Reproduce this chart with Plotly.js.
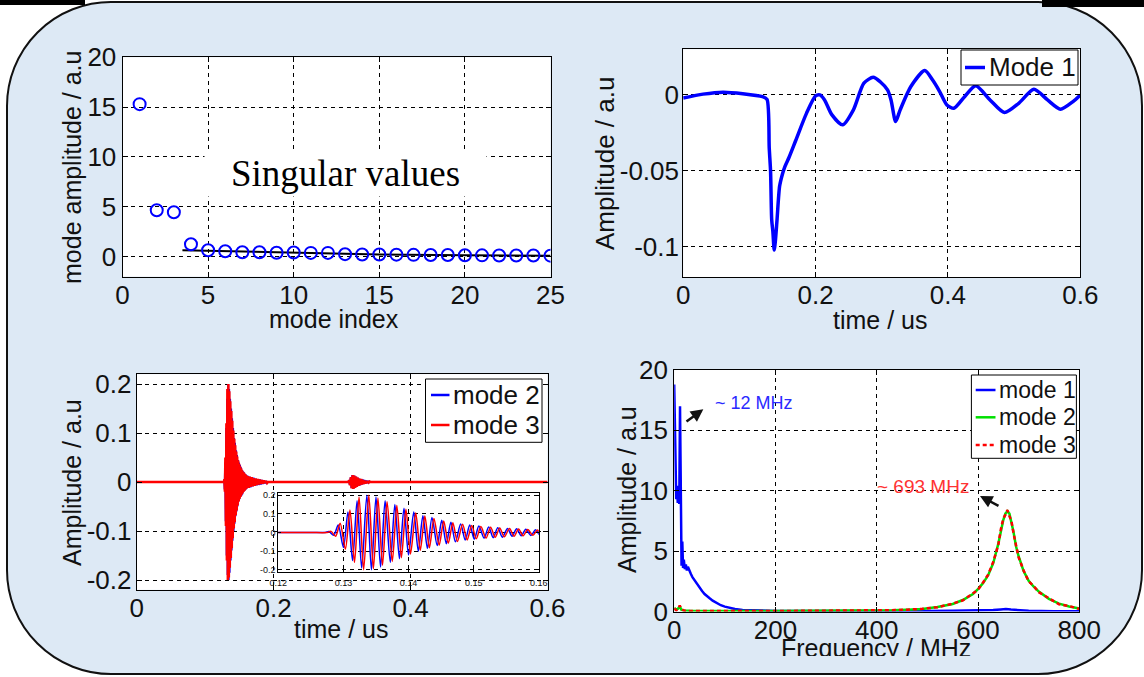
<!DOCTYPE html>
<html><head><meta charset="utf-8">
<script src="https://cdn.plot.ly/plotly-3.0.1.min.js"></script>
<style>
html,body{margin:0;padding:0;background:#fff;width:1144px;height:677px;overflow:hidden;}
#frame{position:absolute;left:6px;top:1px;width:1137px;height:674px;box-sizing:border-box;border:2px solid #111;border-radius:105px;background:#dde9f5;}
.bar{position:absolute;background:#000;}
#chart{position:absolute;left:0;top:0;width:1144px;height:677px;}
#clip{position:absolute;left:776px;top:656px;width:200px;height:14px;background:#dde9f5;}
</style></head><body>
<div id="frame"></div>
<div class="bar" style="left:0;top:0;width:85px;height:5px"></div>
<div class="bar" style="left:1042px;top:0;width:102px;height:7px"></div>
<div id="chart"></div>
<div id="clip"></div>
<script>
// ---------- Panel A: singular values ----------
const modeIndex = [1,2,3,4,5,6,7,8,9,10,11,12,13,14,15,16,17,18,19,20,21,22,23,24,25];
const singularValues = [15.3,4.65,4.45,1.25,0.65,0.55,0.45,0.45,0.4,0.42,0.38,0.38,0.25,0.22,0.22,0.2,0.18,0.16,0.16,0.14,0.13,0.12,0.12,0.11,0.1];
const floorIndex = [3.5,5,10,15,20,25];
const floorLevel = [0.65,0.6,0.4,0.22,0.14,0.1];

// ---------- Panel B: mode 1 in time ----------
const mode1Time = [0,0.03,0.06,0.09,0.12,0.1266,0.130,0.132,0.1337,0.1355,0.1375,0.1395,0.1418,0.1457,0.150,0.1538,0.160,0.170,0.1864,0.200,0.2065,0.2136,0.2245,0.241,0.257,0.273,0.287,0.298,0.3087,0.314,0.321,0.3277,0.344,0.365,0.3766,0.3875,0.3984,0.409,0.4255,0.442,0.4636,0.4853,0.507,0.530,0.5505,0.570,0.589,0.600];
const mode1Amp = [-0.002,0.0005,0.0018,0.0008,-0.0012,-0.003,-0.035,-0.05,-0.082,-0.09,-0.102,-0.095,-0.082,-0.06,-0.052,-0.047,-0.041,-0.030,-0.012,-0.0007,0.0,-0.0033,-0.013,-0.0197,-0.010,0.0077,0.0116,0.0085,0.0033,-0.0033,-0.0175,-0.010,0.0055,0.016,0.0099,0.0022,-0.0066,-0.0088,-0.001,0.006,-0.0033,-0.0116,-0.0055,0.0037,-0.0033,-0.0094,-0.0044,0.0];

// ---------- Panel C: modes 2 and 3 in time ----------
const mode2Time = [0,0.05,0.1,0.12,0.125,0.1272,0.1278,0.1285,0.1292,0.1300,0.1307,0.1314,0.1321,0.1328,0.1336,0.1343,0.1350,0.1357,0.1364,0.1372,0.1379,0.1386,0.1393,0.1400,0.1408,0.1415,0.1422,0.1429,0.1436,0.1444,0.1451,0.1458,0.1465,0.1472,0.1480,0.1487,0.1494,0.1501,0.1508,0.1516,0.1523,0.1530,0.1537,0.1544,0.1552,0.1559,0.1566,0.1573,0.1580,0.1588,0.1595,0.1602,0.1617,0.1632,0.1647,0.1662,0.1677,0.1692,0.1707,0.1722,0.1737,0.1752,0.1767,0.1782,0.1797,0.1812,0.1827,0.1842,0.1857,0.1872,0.1887,0.1902,0.1915,0.2,0.25,0.3,0.3090,0.3100,0.3112,0.3125,0.3137,0.3150,0.3162,0.3175,0.3187,0.3200,0.3212,0.3225,0.3237,0.3250,0.3262,0.3275,0.3287,0.3300,0.3312,0.3325,0.3337,0.3350,0.3362,0.3375,0.3387,0.3400,0.3412,0.35,0.45,0.55,0.6000];
const mode2Amp = [0,0,0,0,0,0,0.005,-0.015,0.04,-0.08,0.11,-0.15,0.17,-0.19,0.2,-0.2,0.19,-0.185,0.17,-0.16,0.15,-0.14,0.13,-0.12,0.11,-0.1,0.09,-0.085,0.08,-0.07,0.065,-0.06,0.055,-0.05,0.045,-0.04,0.04,-0.035,0.035,-0.03,0.03,-0.028,0.025,-0.025,0.022,-0.02,0.02,-0.018,0.017,-0.016,0.015,-0.014,0.013,-0.012,0.011,-0.011,0.01,-0.009,0.009,-0.008,0.007,-0.007,0.006,-0.006,0.005,-0.005,0.004,-0.004,0.003,-0.003,0.002,-0.002,0,0,0,0,0,0.003,-0.006,0.009,-0.012,0.014,-0.014,0.013,-0.012,0.011,-0.01,0.009,-0.008,0.007,-0.007,0.006,-0.005,0.005,-0.004,0.004,-0.003,0.003,-0.002,0.002,-0.001,0.001,0,0,0,0,0];
const mode3Time = [0,0.05,0.1,0.12,0.125,0.1275,0.1281,0.1288,0.1295,0.1303,0.1310,0.1317,0.1324,0.1331,0.1339,0.1346,0.1353,0.1360,0.1367,0.1375,0.1382,0.1389,0.1396,0.1403,0.1411,0.1418,0.1425,0.1432,0.1439,0.1447,0.1454,0.1461,0.1468,0.1475,0.1483,0.1490,0.1497,0.1504,0.1511,0.1519,0.1526,0.1533,0.1540,0.1547,0.1555,0.1562,0.1569,0.1576,0.1583,0.1591,0.1598,0.1605,0.1620,0.1635,0.1650,0.1665,0.1680,0.1695,0.1710,0.1725,0.1740,0.1755,0.1770,0.1785,0.1800,0.1815,0.1830,0.1845,0.1860,0.1875,0.1890,0.1905,0.1918,0.2,0.25,0.3,0.3094,0.3104,0.3116,0.3129,0.3141,0.3154,0.3166,0.3179,0.3191,0.3204,0.3216,0.3229,0.3241,0.3254,0.3266,0.3279,0.3291,0.3304,0.3316,0.3329,0.3341,0.3354,0.3366,0.3379,0.3391,0.3404,0.3416,0.35,0.45,0.55,0.6000];
const mode3Amp = [0,0,0,0,0,0,0.006,-0.02,0.05,-0.09,0.12,-0.16,0.19,-0.2,0.2,-0.195,0.185,-0.175,0.165,-0.155,0.145,-0.135,0.125,-0.115,0.105,-0.095,0.088,-0.082,0.075,-0.068,0.062,-0.058,0.052,-0.048,0.044,-0.04,0.037,-0.034,0.032,-0.03,0.028,-0.026,0.024,-0.023,0.021,-0.02,0.019,-0.018,0.016,-0.015,0.014,-0.013,0.012,-0.012,0.011,-0.01,0.01,-0.009,0.008,-0.008,0.007,-0.006,0.006,-0.005,0.005,-0.004,0.004,-0.003,0.003,-0.002,0.002,-0.002,0,0,0,0,0,0.004,-0.007,0.01,-0.013,0.014,-0.014,0.013,-0.012,0.011,-0.01,0.009,-0.008,0.007,-0.006,0.006,-0.005,0.004,-0.004,0.003,-0.003,0.002,-0.002,0.002,-0.001,0.001,0,0,0,0,0];

// ---------- Panel D: spectra ----------
const freq1 = [0,1,2.5,4,5.5,7,8.5,10,11.5,13,14.5,16,17.5,19,21,23,25,27,30,33,36,40,45,50,55,60,65,70,76,84,92,100,110,120,135,150,165,180,200,250,300,350,400,450,500,550,600,630,645,655,665,680,700,750,800];
const spec1 = [18.8,16,12,9.3,10.4,9,9.8,8.9,17,7,3.8,5.8,3.6,4.3,3.5,3.9,3.4,3.7,3.3,3.1,2.85,2.6,2.25,1.95,1.7,1.45,1.25,1.1,0.9,0.7,0.52,0.4,0.28,0.2,0.12,0.09,0.07,0.05,0.05,0.04,0.03,0.03,0.03,0.04,0.05,0.06,0.08,0.12,0.17,0.2,0.16,0.1,0.07,0.03,0.02];
const freq23 = [0,4,8,11,14,20,30,50,100,150,200,250,300,350,400,430,460,490,520,550,570,590,600,610,620,630,640,645,650,654,658,662,666,670,675,680,690,700,710,720,740,760,780,800];
const spec2 = [0.3,0.15,0.25,0.45,0.15,0.08,0.06,0.05,0.04,0.04,0.05,0.05,0.05,0.06,0.08,0.1,0.14,0.2,0.38,0.62,0.95,1.45,1.85,2.35,3.0,4.0,5.6,6.7,7.6,8.1,8.3,8.1,7.4,6.6,5.4,4.6,3.35,2.55,2.05,1.65,1.05,0.65,0.42,0.25];
const spec3 = [0.25,0.1,0.2,0.5,0.2,0.06,0.05,0.04,0.05,0.05,0.04,0.05,0.06,0.05,0.07,0.11,0.15,0.22,0.36,0.65,0.92,1.5,1.8,2.4,3.05,4.1,5.5,6.8,7.7,8.0,8.4,7.9,7.5,6.5,5.5,4.5,3.4,2.5,2.1,1.6,1.1,0.6,0.45,0.22];

// ---------- tick labels / names ----------
const tickA_x = [0,5,10,15,20,25], tickA_y = [0,5,10,15,20];
const tickTime = [0,0.2,0.4,0.6], tickTimeText = ['0','0.2','0.4','0.6'];
const tickB_y = [-0.1,-0.05,0], tickB_yText = ['-0.1','-0.05','0'];
const tickC_y = [-0.2,-0.1,0,0.1,0.2], tickC_yText = ['-0.2','-0.1','0','0.1','0.2'];
const tickD_x = [0,200,400,600,800], tickD_y = [0,5,10,15,20];
const tickIn_x = [0.12,0.13,0.14,0.15,0.16], tickIn_xText = ['0.12','0.13','0.14','0.15','0.16'];
const tickIn_y = [-0.2,-0.1,0,0.1,0.2], tickIn_yText = ['-0.2','-0.1','0','0.1','0.2'];
const namesB = ['Mode 1'], namesC = ['mode 2','mode 3'], namesD = ['mode 1','mode 2','mode 3'];

const W = 1144, H = 677;
const px = x => x / W;
const py = y => 1 - y / H;
const F = 'Liberation Sans, Arial, sans-serif';
const BLUE = '#0000ff', RED = '#ff0000', GREEN = '#00e000';

function axis(d0, d1, range, anchor, tickvals, ticktext, size, standoff) {
  const a = {domain:[d0,d1], range:range, anchor:anchor, tickmode:'array', tickvals:tickvals,
    showline:true, linecolor:'#000', linewidth:1, mirror:'ticks', ticks:'inside', ticklen:5,
    tickcolor:'#000', showgrid:true, gridcolor:'#000', gridwidth:1, griddash:'4px,4px',
    zeroline:false, tickfont:{family:F, size:size, color:'#111'}, fixedrange:true, automargin:false,
    ticklabelstandoff: standoff || 0};
  if (ticktext) a.ticktext = ticktext;
  return a;
}

const traces = [
  {x:floorIndex, y:floorLevel, xaxis:'x', yaxis:'y', mode:'lines', line:{color:'#000', width:2}},
  {x:modeIndex, y:singularValues, xaxis:'x', yaxis:'y', mode:'markers',
    marker:{symbol:'circle-open', size:12, color:BLUE, line:{width:2, color:BLUE}}},
  {x:mode1Time, y:mode1Amp, xaxis:'x2', yaxis:'y2', mode:'lines', line:{color:BLUE, width:3.5, shape:'spline', smoothing:0.7}},
  {x:mode2Time, y:mode2Amp, xaxis:'x3', yaxis:'y3', mode:'lines', line:{color:BLUE, width:2, simplify:false}},
  {x:mode3Time, y:mode3Amp, xaxis:'x3', yaxis:'y3', mode:'lines', line:{color:RED, width:2.5, simplify:false}},
  {x:freq1, y:spec1, xaxis:'x4', yaxis:'y4', mode:'lines', line:{color:BLUE, width:2.5}},
  {x:freq23, y:spec2, xaxis:'x4', yaxis:'y4', mode:'lines', line:{color:GREEN, width:2.5}},
  {x:freq23, y:spec3, xaxis:'x4', yaxis:'y4', mode:'lines', line:{color:RED, width:2.5, dash:'4px,3px'}},
  {x:mode2Time, y:mode2Amp, xaxis:'x5', yaxis:'y5', mode:'lines', line:{color:BLUE, width:1.5, shape:'spline', smoothing:0.8, simplify:false}},
  {x:mode3Time, y:mode3Amp, xaxis:'x5', yaxis:'y5', mode:'lines', line:{color:RED, width:1.5, shape:'spline', smoothing:0.8, simplify:false}}
];

const ann = [];
function label(text, x, y, size, angle, extra) {
  ann.push(Object.assign({xref:'paper', yref:'paper', x:px(x), y:py(y), text:text, showarrow:false,
    xanchor:'center', yanchor:'middle', textangle:angle||0, font:{family:F, size:size, color:'#111'}}, extra||{}));
}
label('mode amplitude / a.u', 72, 168, 25, -90);
label('mode index', 334, 319, 25);
label('Amplitude / a.u', 605, 164, 26, -90);
label('time / us', 880, 320, 25);
label('Amplitude / a.u', 72, 483, 25, -90);
label('time / us', 341, 629, 25);
label('Amplitude / a.u', 627, 490, 25, -90);
label('Frequency / MHz', 876, 648, 25);

ann.push({xref:'x', yref:'y', x:13.03, y:8.4, text:'Singular values', showarrow:false, width:279, height:44,
  bgcolor:'#ffffff', font:{family:'Liberation Serif, Times New Roman, serif', size:37, color:'#000'}});
ann.push({xref:'x4', yref:'y4', x:76.6, y:17.27, text:'~ 12 MHz', showarrow:false, xanchor:'left',
  font:{family:F, size:18, color:'#2a2aff'}});
ann.push({xref:'x4', yref:'y4', x:490.4, y:10.34, text:'~ 693 MHz', showarrow:false,
  font:{family:F, size:19, color:'#ff3333'}});
ann.push({xref:'x4', yref:'y4', x:57.5, y:16.75, axref:'x4', ayref:'y4', ax:21.3, ay:15.64, text:'',
  showarrow:true, arrowhead:2, arrowsize:1, arrowwidth:2.5, arrowcolor:'#111', standoff:0});
ann.push({xref:'x4', yref:'y4', x:603.9, y:9.57, axref:'x4', ayref:'y4', ax:643.4, ay:8.68, text:'',
  showarrow:true, arrowhead:2, arrowsize:1, arrowwidth:2.5, arrowcolor:'#111', standoff:0});

// custom legends
const shapes = [
  {type:'rect', xref:'x5 domain', yref:'y5 domain', x0:0, x1:1, y0:0, y1:1, fillcolor:'#ffffff', line:{width:0}, layer:'below'}
];
function legendBox(x0, y0, x1, y1) {
  shapes.push({type:'rect', xref:'paper', yref:'paper', x0:px(x0), x1:px(x1), y0:py(y1), y1:py(y0),
    fillcolor:'#ffffff', line:{color:'#000', width:1}, layer:'above'});
}
function legendItem(name, lx0, lx1, ly, color, width, dash, size) {
  shapes.push({type:'line', xref:'paper', yref:'paper', x0:px(lx0), x1:px(lx1), y0:py(ly), y1:py(ly),
    line:{color:color, width:width, dash:dash||'solid'}, layer:'above'});
  ann.push({xref:'paper', yref:'paper', x:px(lx1+1.5), y:py(ly), text:name, showarrow:false, xanchor:'left',
    yanchor:'middle', font:{family:F, size:size, color:'#111'}});
}
legendBox(961, 50, 1078, 85);
legendItem(namesB[0], 965, 985, 67.5, BLUE, 3.5, null, 26);
legendBox(425.5, 379, 542, 442.3);
legendItem(namesC[0], 431, 449.5, 395, BLUE, 2.5, null, 26);
legendItem(namesC[1], 431, 449.5, 425, RED, 2.5, null, 26);
legendBox(971.4, 375, 1076.4, 458.3);
legendItem(namesD[0], 975.7, 995.5, 390, BLUE, 2.5, null, 23);
legendItem(namesD[1], 975.7, 995.5, 417.3, GREEN, 2.5, null, 23);
legendItem(namesD[2], 975.7, 995.5, 445, RED, 2.5, '4px,3px', 23);

const layout = {
  width:W, height:H, margin:{l:0, r:0, t:0, b:0}, showlegend:false,
  paper_bgcolor:'rgba(0,0,0,0)', plot_bgcolor:'#ffffff',
  xaxis: axis(px(122.5), px(550.5), [0,25], 'y', tickA_x, null, 26, -5),
  yaxis: axis(py(276.6), py(57.3), [-2,20], 'x', tickA_y, null, 26),
  xaxis2: axis(px(683.2), px(1080.3), [0,0.6], 'y2', tickTime, tickTimeText, 26, -6),
  yaxis2: axis(py(277.3), py(49.3), [-0.12,0.03], 'x2', tickB_y, tickB_yText, 26, -2),
  xaxis3: axis(px(136.7), px(547.5), [0,0.6], 'y3', tickTime, tickTimeText, 26, -5),
  yaxis3: axis(py(589.8), py(374.2), [-0.22,0.22], 'x3', tickC_y, tickC_yText, 26, -1),
  xaxis4: axis(px(674.2), px(1079.3), [0,800], 'y4', tickD_x, null, 26, -5),
  yaxis4: axis(py(611.5), py(370), [0,20], 'x4', tickD_y, null, 26),
  xaxis5: axis(px(278.3), px(538.8), [0.12,0.16], 'y5', tickIn_x, tickIn_xText, 9, 2),
  yaxis5: axis(py(571.7), py(493.3), [-0.21,0.21], 'x5', tickIn_y, tickIn_yText, 9),
  annotations: ann, shapes: shapes
};
layout.xaxis5.ticklen = 3; layout.yaxis5.ticklen = 3;

Plotly.newPlot('chart', traces, layout, {staticPlot:true, displayModeBar:false});
</script></body></html>
